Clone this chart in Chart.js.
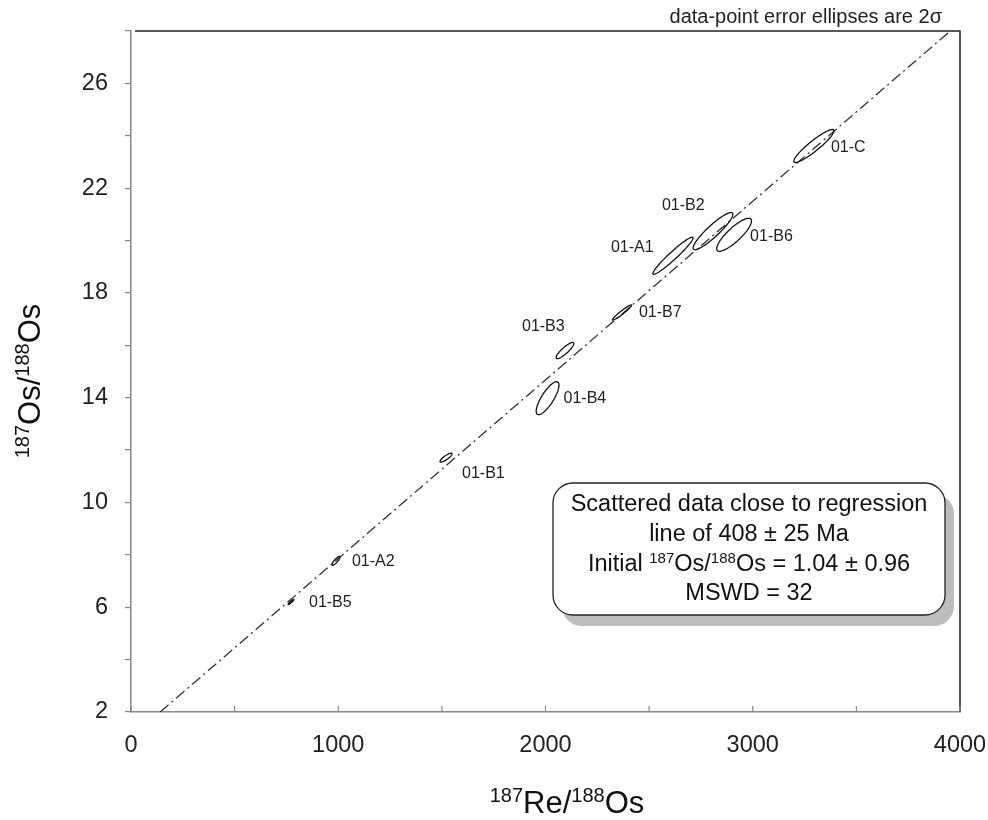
<!DOCTYPE html>
<html>
<head>
<meta charset="utf-8">
<script src="https://cdn.jsdelivr.net/npm/chart.js@4.4.1/dist/chart.umd.min.js"></script>
<style>
  html, body { margin: 0; padding: 0; background: #fff; }
  #wrap { width: 988px; height: 820px; }
</style>
</head>
<body>
<div id="wrap"><canvas id="isochron" width="988" height="820"></canvas></div>
<script>
// sample data: 187Re/188Os, 187Os/188Os, 2-sigma half widths, error correlation
const samples = ['01-C', '01-B2', '01-B6', '01-A1', '01-B7', '01-B3', '01-B4', '01-B1', '01-A2', '01-B5'];
const reOs   = [3295, 2808, 2910, 2615, 2369, 2094, 2010, 1520, 989, 772];
const osOs   = [23.61, 20.36, 20.22, 19.42, 17.25, 15.80, 13.98, 11.71, 7.77, 6.20];
const errX   = [97, 96, 84, 97, 46, 43, 55, 29, 19, 14];
const errY   = [0.63, 0.71, 0.63, 0.71, 0.29, 0.31, 0.63, 0.17, 0.17, 0.10];
const rho    = [0.92, 0.91, 0.84, 0.96, 0.96, 0.87, 0.79, 0.85, 0.85, 0.93];

// regression line end points (408 Ma, initial 1.04)
const regX = [141, 3953];
const regY = [2, 28];

const xTickLabels = [0, 1000, 2000, 3000, 4000];
const yTickLabels = [2, 6, 10, 14, 18, 22, 26];

const FONT = '"Liberation Sans", Arial, sans-serif';

// label offsets from the ellipse centre, in pixels
const labelOffset = {
  '01-C': [17, 2], '01-B2': [-51, -26], '01-B6': [16, 2], '01-A1': [-62, -8],
  '01-B7': [17, 0], '01-B3': [-43, -24], '01-B4': [16, 0], '01-B1': [16, 16],
  '01-A2': [16, 1], '01-B5': [18, 1]
};

function richText(ctx, parts, x, y, size, align) {
  const big = size + 'px ' + FONT;
  const small = Math.round(size * 0.65) + 'px ' + FONT;
  let w = 0;
  parts.forEach(p => { ctx.font = p.sup ? small : big; p.w = ctx.measureText(p.t).width; w += p.w; });
  let cx = align === 'center' ? x - w / 2 : x;
  ctx.textAlign = 'left';
  ctx.textBaseline = 'alphabetic';
  parts.forEach(p => {
    ctx.font = p.sup ? small : big;
    ctx.fillText(p.t, cx, p.sup ? y - size * 0.36 : y);
    cx += p.w;
  });
}

function roundRect(ctx, x, y, w, h, r) {
  ctx.beginPath();
  ctx.moveTo(x + r, y);
  ctx.arcTo(x + w, y, x + w, y + h, r);
  ctx.arcTo(x + w, y + h, x, y + h, r);
  ctx.arcTo(x, y + h, x, y, r);
  ctx.arcTo(x, y, x + w, y, r);
  ctx.closePath();
}

const decor = {
  id: 'decor',
  afterDraw(chart) {
    const ctx = chart.ctx;
    const a = chart.chartArea;
    const xs = chart.scales.x, ys = chart.scales.y;
    ctx.save();

    // top & right frame
    ctx.strokeStyle = '#222';
    ctx.lineWidth = 1.5;
    ctx.beginPath();
    ctx.moveTo(a.left + 4, a.top);
    ctx.lineTo(a.right, a.top);
    ctx.lineTo(a.right, a.bottom);
    ctx.stroke();

    // inner x tick marks
    ctx.strokeStyle = '#888';
    ctx.lineWidth = 1.2;
    xs.ticks.forEach(t => {
      const px = xs.getPixelForValue(t.value);
      ctx.beginPath();
      ctx.moveTo(px, a.bottom);
      ctx.lineTo(px, a.bottom - 6);
      ctx.stroke();
    });

    // error ellipses
    ctx.strokeStyle = '#111';
    ctx.lineWidth = 1.3;
    samples.forEach((s, i) => {
      const q = Math.sqrt(1 - rho[i] * rho[i]);
      ctx.beginPath();
      for (let k = 0; k <= 90; k++) {
        const th = k / 90 * Math.PI * 2;
        const vx = reOs[i] + errX[i] * Math.cos(th);
        const vy = osOs[i] + errY[i] * (rho[i] * Math.cos(th) + q * Math.sin(th));
        const px = xs.getPixelForValue(vx), py = ys.getPixelForValue(vy);
        if (k === 0) ctx.moveTo(px, py); else ctx.lineTo(px, py);
      }
      ctx.closePath();
      ctx.stroke();

      const off = labelOffset[s];
      ctx.fillStyle = '#222';
      ctx.font = '16px ' + FONT;
      ctx.textAlign = 'left';
      ctx.textBaseline = 'middle';
      ctx.fillText(s, xs.getPixelForValue(reOs[i]) + off[0], ys.getPixelForValue(osOs[i]) + off[1]);
    });

    // note at top
    ctx.fillStyle = '#222';
    ctx.font = '20px ' + FONT;
    ctx.textAlign = 'right';
    ctx.textBaseline = 'alphabetic';
    ctx.fillText('data-point error ellipses are 2\u03c3', a.right - 18, 23);

    // result box with shadow
    const bx = 553, by = 483, bw = 392, bh = 132;
    ctx.fillStyle = '#bdbdbd';
    roundRect(ctx, bx + 9, by + 11, bw, bh, 20);
    ctx.fill();
    ctx.fillStyle = '#fff';
    ctx.strokeStyle = '#222';
    ctx.lineWidth = 1.3;
    roundRect(ctx, bx, by, bw, bh, 20);
    ctx.fill();
    ctx.stroke();
    ctx.fillStyle = '#111';
    const mid = bx + bw / 2;
    richText(ctx, [{ t: 'Scattered data close to regression' }], mid, 511, 23.5, 'center');
    richText(ctx, [{ t: 'line of 408 \u00b1 25 Ma' }], mid, 541, 23.5, 'center');
    richText(ctx, [{ t: 'Initial ' }, { t: '187', sup: true }, { t: 'Os/' }, { t: '188', sup: true },
                   { t: 'Os = 1.04 \u00b1 0.96' }], mid, 571, 23.5, 'center');
    richText(ctx, [{ t: 'MSWD = 32' }], mid, 600, 23.5, 'center');

    // axis titles
    ctx.fillStyle = '#111';
    richText(ctx, [{ t: '187', sup: true }, { t: 'Re/' }, { t: '188', sup: true }, { t: 'Os' }], 567, 813, 31, 'center');
    ctx.translate(40, 381);
    ctx.rotate(-Math.PI / 2);
    richText(ctx, [{ t: '187', sup: true }, { t: 'Os/' }, { t: '188', sup: true }, { t: 'Os' }], 0, 0, 31, 'center');
    ctx.restore();
  }
};

const ctx = document.getElementById('isochron').getContext('2d');
new Chart(ctx, {
  type: 'scatter',
  data: {
    datasets: [{
      type: 'line',
      data: regX.map((x, i) => ({ x, y: regY[i] })),
      borderColor: '#333',
      borderWidth: 1.3,
      borderDash: [11, 4, 2, 4],
      pointRadius: 0,
      fill: false
    }]
  },
  options: {
    responsive: false,
    animation: false,
    layout: { padding: { top: 31, right: 28, left: 0, bottom: 0 } },
    plugins: { legend: { display: false }, tooltip: { enabled: false } },
    scales: {
      x: {
        type: 'linear', min: 0, max: 4000,
        ticks: {
          stepSize: 500, autoSkip: false, maxRotation: 0, padding: 19,
          color: '#222', font: { family: FONT, size: 23.5 },
          callback: v => xTickLabels.includes(v) ? String(v) : ''
        },
        grid: { drawOnChartArea: false, drawTicks: false },
        border: { color: '#888', width: 1.5 },
        afterFit(s) { s.height = 108; s.paddingLeft = 0; s.paddingRight = 0; }
      },
      y: {
        type: 'linear', min: 2, max: 28,
        ticks: {
          stepSize: 2, autoSkip: false, padding: 17,
          color: '#222', font: { family: FONT, size: 23.5 },
          callback: v => yTickLabels.includes(v) ? String(v) : ''
        },
        grid: { drawOnChartArea: false, drawTicks: true, tickLength: 6, color: '#888', lineWidth: 1.2 },
        border: { color: '#888', width: 1.5 },
        afterFit(s) { s.width = 131; s.paddingTop = 0; s.paddingBottom = 0; }
      }
    }
  },
  plugins: [decor]
});
</script>
</body>
</html>
